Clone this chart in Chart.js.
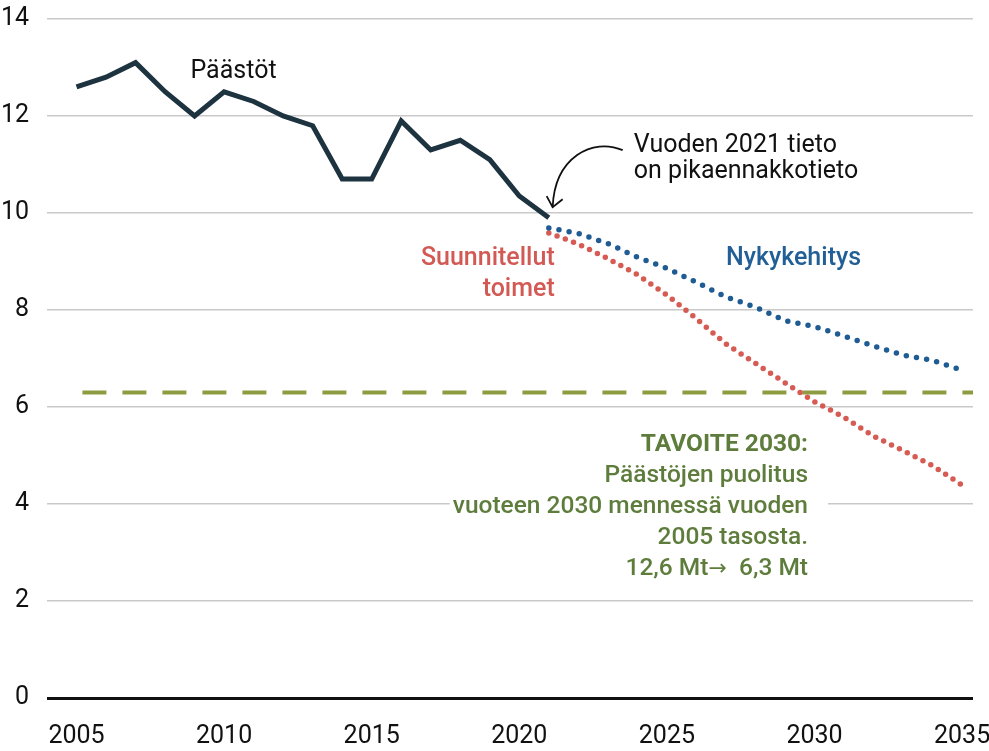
<!DOCTYPE html>
<html>
<head>
<meta charset="utf-8">
<script src="https://cdn.jsdelivr.net/npm/chart.js@4"></script>
<style>
  body { margin: 0; background: #fff; }
  #wrap { width: 989px; height: 751px; }
</style>
</head>
<body>
<div id="wrap"><canvas id="myChart" width="989" height="751"></canvas></div>
<script>
// emissions, Mt CO2-ekv.
const emisYears = [2005, 2006, 2007, 2008, 2009, 2010, 2011, 2012, 2013, 2014, 2015, 2016, 2017, 2018, 2019, 2020, 2021];
const emissions = [12.6, 12.8, 13.1, 12.5, 12.0, 12.5, 12.3, 12.0, 11.8, 10.7, 10.7, 11.9, 11.3, 11.5, 11.1, 10.35, 9.9];

const forecastYears = [2021, 2022, 2023, 2024, 2025, 2026, 2027, 2028, 2029, 2030, 2031, 2032, 2033, 2034, 2035];
const currentTrend = [9.69, 9.58, 9.37, 9.09, 8.86, 8.57, 8.27, 8.06, 7.78, 7.66, 7.46, 7.26, 7.07, 6.96, 6.76];
const plannedActions = [9.59, 9.36, 9.06, 8.73, 8.31, 7.82, 7.30, 6.90, 6.50, 6.11, 5.79, 5.40, 5.10, 4.79, 4.39];

const targetYears = [2005.2, 2035.4];
const targetValue = 6.3;

const xTicks = [2005, 2010, 2015, 2020, 2025, 2030, 2035];

const FONT = "Roboto, 'Noto Sans', sans-serif";

//helper to zip years and values into points
function toPoints(xs, ys) {
    return xs.map((x, i) => ({ x: x, y: ys[i] }));
}

//draw the texts and the arrow on top of the chart
const annotations = {
    id: 'annotations',
    afterDatasetsDraw(chart) {
        const ctx = chart.ctx;
        const xs = chart.scales.x;
        const ys = chart.scales.y;
        const px = (v) => xs.getPixelForValue(v);
        const py = (v) => ys.getPixelForValue(v) + 2;

        ctx.save();
        ctx.textBaseline = 'middle';

        //Päästöt
        ctx.font = "400 25px " + FONT;
        ctx.fillStyle = '#111111';
        ctx.textAlign = 'left';
        ctx.fillText('Päästöt', px(2008.86), py(12.95));

        //note about 2021
        ctx.fillText('Vuoden 2021 tieto', px(2023.88), py(11.42));
        ctx.fillText('on pikaennakkotieto', px(2023.88), py(10.89));

        //arrow
        const tipX = px(2021.13), tipY = py(10.12) - 2;
        ctx.strokeStyle = '#111111';
        ctx.lineWidth = 1.8;
        ctx.beginPath();
        ctx.moveTo(tipX + 70, tipY - 57);
        ctx.bezierCurveTo(tipX + 40, tipY - 70, tipX + 2, tipY - 50, tipX, tipY);
        ctx.stroke();
        ctx.beginPath();
        ctx.moveTo(tipX - 6, tipY - 11);
        ctx.lineTo(tipX, tipY);
        ctx.lineTo(tipX + 10, tipY - 8);
        ctx.stroke();

        //series labels
        ctx.font = "500 25px " + FONT;
        ctx.fillStyle = '#d35a54';
        ctx.textAlign = 'right';
        ctx.fillText('Suunnitellut', px(2021.2), py(9.09));
        ctx.fillText('toimet', px(2021.2), py(8.45));

        ctx.fillStyle = '#215f96';
        ctx.textAlign = 'left';
        ctx.fillText('Nykykehitys', px(2027.0), py(9.09));

        //target text with white box
        const lines = ['TAVOITE 2030:', 'Päästöjen puolitus', 'vuoteen 2030 mennessä vuoden', '2005 tasosta.'];
        const lineVals = [5.26, 4.62, 3.98, 3.34, 2.70];
        const right = px(2029.78);
        ctx.font = "500 24.5px " + FONT;
        let maxW = 0;
        lines.forEach(l => { maxW = Math.max(maxW, ctx.measureText(l).width); });
        ctx.fillStyle = '#ffffff';
        ctx.fillRect(right - maxW - 3, py(lineVals[0]) - 14, maxW + 23, py(lineVals[4]) - py(lineVals[0]) + 28);

        ctx.fillStyle = '#5e7d3c';
        ctx.textAlign = 'right';
        lines.forEach((l, i) => {
            ctx.font = (i === 0 ? "700 " : "500 ") + "24.5px " + FONT;
            ctx.fillText(l, right, py(lineVals[i]));
        });

        //last line, arrow glyph from DejaVu so it is bigger
        const yLast = py(lineVals[4]);
        ctx.font = "500 24.5px " + FONT;
        const tail = '  6,3 Mt';
        const tailW = ctx.measureText(tail).width;
        ctx.fillText(tail, right, yLast);
        ctx.font = "400 22px 'DejaVu Sans'";
        const arrW = ctx.measureText('\u2192').width;
        ctx.fillText('\u2192', right - tailW, yLast);
        ctx.font = "500 24.5px " + FONT;
        ctx.fillText('12,6 Mt', right - tailW - arrW, yLast);

        ctx.restore();
    }
};

const data = {
    datasets: [
        {
            label: 'Tavoite',
            data: toPoints(targetYears, [targetValue, targetValue]),
            borderColor: '#8d9c40',
            borderWidth: 4,
            borderDash: [24, 16],
            pointRadius: 0,
            order: 3
        },
        {
            label: 'Nykykehitys',
            data: toPoints(forecastYears, currentTrend),
            borderColor: '#1f5c94',
            borderWidth: 5.5,
            borderDash: [0, 10.3],
            borderCapStyle: 'round',
            pointRadius: 0,
            order: 2
        },
        {
            label: 'Suunnitellut toimet',
            data: toPoints(forecastYears, plannedActions),
            borderColor: '#d65b53',
            borderWidth: 5.5,
            borderDash: [0, 8.8],
            borderCapStyle: 'round',
            pointRadius: 0,
            order: 2
        },
        {
            label: 'Päästöt',
            data: toPoints(emisYears, emissions),
            borderColor: '#1e3340',
            borderWidth: 5,
            borderJoinStyle: 'miter',
            pointRadius: 0,
            order: 1
        }
    ]
};

const config = {
    type: 'line',
    data,
    options: {
        responsive: false,
        animation: false,
        layout: { padding: { top: 19, right: 16, left: 0, bottom: 0 } },
        plugins: {
            legend: { display: false },
            tooltip: { enabled: false }
        },
        scales: {
            x: {
                type: 'linear',
                min: 2004,
                max: 2035.37,
                afterBuildTicks: (scale) => { scale.ticks = xTicks.map(v => ({ value: v })); },
                afterFit: (scale) => { scale.height = 53; scale.paddingLeft = 0; scale.paddingRight = 0; },
                grid: { display: false },
                border: { display: false },
                ticks: {
                    autoSkip: false,
                    maxRotation: 0,
                    padding: 16,
                    color: '#111111',
                    font: { family: FONT, size: 25, weight: 400 },
                    callback: (v) => String(v)
                }
            },
            y: {
                min: 0,
                max: 14,
                afterFit: (scale) => { scale.width = 47; scale.paddingTop = 0; scale.paddingBottom = 0; },
                ticks: {
                    stepSize: 2,
                    padding: 18,
                    color: '#111111',
                    font: { family: FONT, size: 25, weight: 400 }
                },
                grid: {
                    drawTicks: false,
                    color: (c) => c.tick && c.tick.value === 0 ? '#111111' : '#c9c9c9',
                    lineWidth: (c) => c.tick && c.tick.value === 0 ? 3 : 1.5
                },
                border: { display: false }
            }
        }
    },
    plugins: [annotations]
};

let chart = new Chart(document.getElementById('myChart'), config);
</script>
</body>
</html>
